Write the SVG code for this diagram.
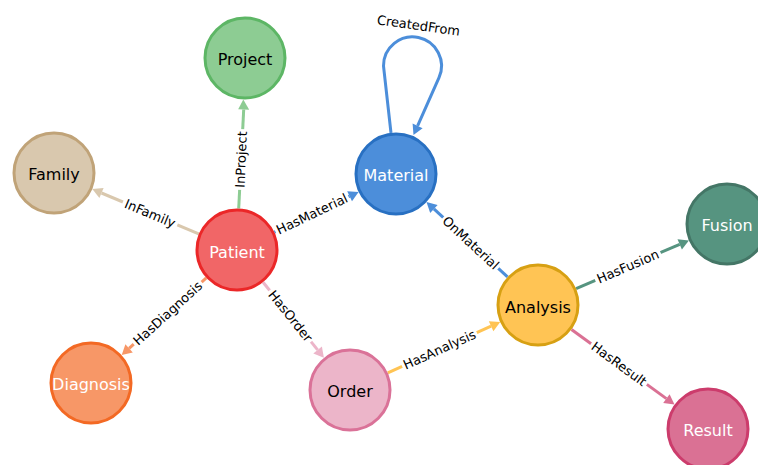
<svg xmlns="http://www.w3.org/2000/svg" width="758" height="465" viewBox="0 0 758 465">
<style>
.node circle{stroke-width:3}
.nt{font-family:"DejaVu Sans",sans-serif;font-size:16px;text-anchor:middle;dominant-baseline:central}
.el{font-family:"DejaVu Sans",sans-serif;font-size:13px;text-anchor:middle;dominant-baseline:central;fill:#000}
.ln{stroke-width:3;fill:none}
.gap{fill:#fff}
</style>
<rect width="758" height="465" fill="#fff"/>
<g id="connectors">
  <g id="e-inproject">
    <line class="ln" x1="238.7" y1="208.5" x2="243.7" y2="109.5" stroke="#8DCC93"/>
    <polygon points="243.3,99.5 249.2,109.7 238.2,109.3" fill="#8DCC93"/>
    <g transform="translate(241.2,159.5) rotate(-87.6)"><rect class="gap" x="-30.5" y="-3.5" width="61" height="7"/><text class="el">InProject</text></g>
  </g>
  <g id="e-hasmaterial">
    <line class="ln" x1="274.4" y1="232.1" x2="349.6" y2="196.2" stroke="#4C8EDA"/>
    <polygon points="358.6,191.9 352,201.2 347.2,191.2" fill="#4C8EDA"/>
    <g transform="translate(312,214.1) rotate(-25.55)"><rect class="gap" x="-40.5" y="-3.5" width="81" height="7"/><text class="el">HasMaterial</text></g>
  </g>
  <g id="e-infamily">
    <line class="ln" x1="198.7" y1="233.9" x2="101.5" y2="193" stroke="#D9C8AE"/>
    <polygon points="92.3,189.1 103.6,187.9 99.4,198.1" fill="#D9C8AE"/>
    <g transform="translate(150.1,213.5) rotate(22.8)"><rect class="gap" x="-29.5" y="-3.5" width="59" height="7"/><text class="el">InFamily</text></g>
  </g>
  <g id="e-hasdiagnosis">
    <line class="ln" x1="206.3" y1="277.9" x2="129.1" y2="348.4" stroke="#F79767"/>
    <polygon points="121.7,355.1 125.4,344.3 132.8,352.5" fill="#F79767"/>
    <g transform="translate(167.7,313.2) rotate(-42.3)"><rect class="gap" x="-46" y="-3.5" width="92" height="7"/><text class="el">HasDiagnosis</text></g>
  </g>
  <g id="e-hasorder">
    <line class="ln" x1="263.1" y1="282.3" x2="317.6" y2="349.9" stroke="#ECB5C9"/>
    <polygon points="323.9,357.7 313.3,353.4 321.9,346.4" fill="#ECB5C9"/>
    <g transform="translate(290.3,316.1) rotate(51.1)"><rect class="gap" x="-33" y="-3.5" width="66" height="7"/><text class="el">HasOrder</text></g>
  </g>
  <g id="e-hasanalysis">
    <line class="ln" x1="387.8" y1="372.9" x2="491.1" y2="326.2" stroke="#FFC454"/>
    <polygon points="500.2,322.1 493.4,331.2 488.8,321.2" fill="#FFC454"/>
    <g transform="translate(439.5,349.6) rotate(-24.3)"><rect class="gap" x="-41" y="-3.5" width="82" height="7"/><text class="el">HasAnalysis</text></g>
  </g>
  <g id="e-onmaterial">
    <line class="ln" x1="507.5" y1="276.9" x2="433.9" y2="208.9" stroke="#4C8EDA"/>
    <polygon points="426.5,202.1 437.6,204.9 430.2,212.9" fill="#4C8EDA"/>
    <g transform="translate(470.7,242.9) rotate(42.7)"><rect class="gap" x="-37.5" y="-3.5" width="75" height="7"/><text class="el">OnMaterial</text></g>
  </g>
  <g id="e-hasfusion">
    <line class="ln" x1="576.1" y1="288.6" x2="679.7" y2="244.3" stroke="#569480"/>
    <polygon points="688.9,240.4 681.9,249.4 677.5,239.2" fill="#569480"/>
    <g transform="translate(627.9,266.5) rotate(-23.2)"><rect class="gap" x="-35.5" y="-3.5" width="71" height="7"/><text class="el">HasFusion</text></g>
  </g>
  <g id="e-hasresult">
    <line class="ln" x1="571.5" y1="329.5" x2="666.4" y2="398.6" stroke="#DA7194"/>
    <polygon points="674.5,404.5 663.2,403 669.6,394.2" fill="#DA7194"/>
    <g transform="translate(619,364) rotate(36.1)"><rect class="gap" x="-34.5" y="-3.5" width="69" height="7"/><text class="el">HasResult</text></g>
  </g>
  <g id="e-createdfrom">
    <path class="ln" d="M391,133 L383.5,66 A29,29 0 1 1 439,77.7 L417.6,125.9" stroke="#4C8EDA"/>
    <polygon points="413.5,135 412.6,123.6 422.6,128.2" fill="#4C8EDA"/>
    <text class="el" transform="translate(418.5,25.5) rotate(8)">CreatedFrom</text>
  </g>
</g>
<g id="n-project" class="node"><circle cx="245" cy="58" r="40" fill="#8DCC93" stroke="#5DB665"/><text class="nt" x="245" y="59" fill="#000">Project</text></g>
<g id="n-family" class="node"><circle cx="54" cy="173" r="40" fill="#D9C8AE" stroke="#C0A378"/><text class="nt" x="54" y="174.5" fill="#000">Family</text></g>
<g id="n-material" class="node"><circle cx="396" cy="174" r="40" fill="#4C8EDA" stroke="#2870C2"/><text class="nt" x="396" y="175.5" fill="#fff">Material</text></g>
<g id="n-patient" class="node"><circle cx="237" cy="250" r="40" fill="#F16667" stroke="#EB2728"/><text class="nt" x="237" y="252" fill="#fff">Patient</text></g>
<g id="n-fusion" class="node"><circle cx="727" cy="224" r="40" fill="#569480" stroke="#447666"/><text class="nt" x="727" y="225.5" fill="#fff">Fusion</text></g>
<g id="n-analysis" class="node"><circle cx="538" cy="305" r="40" fill="#FFC454" stroke="#D7A013"/><text class="nt" x="538" y="307" fill="#000">Analysis</text></g>
<g id="n-diagnosis" class="node"><circle cx="91" cy="383" r="40" fill="#F79767" stroke="#F36924"/><text class="nt" x="91" y="384.5" fill="#fff">Diagnosis</text></g>
<g id="n-order" class="node"><circle cx="350" cy="390" r="40" fill="#ECB5C9" stroke="#DA7298"/><text class="nt" x="350" y="391.5" fill="#fff" style="fill:#000">Order</text></g>
<g id="n-result" class="node"><circle cx="708" cy="429" r="40" fill="#DA7194" stroke="#CC3C6C"/><text class="nt" x="708" y="430.5" fill="#fff">Result</text></g>
</svg>
